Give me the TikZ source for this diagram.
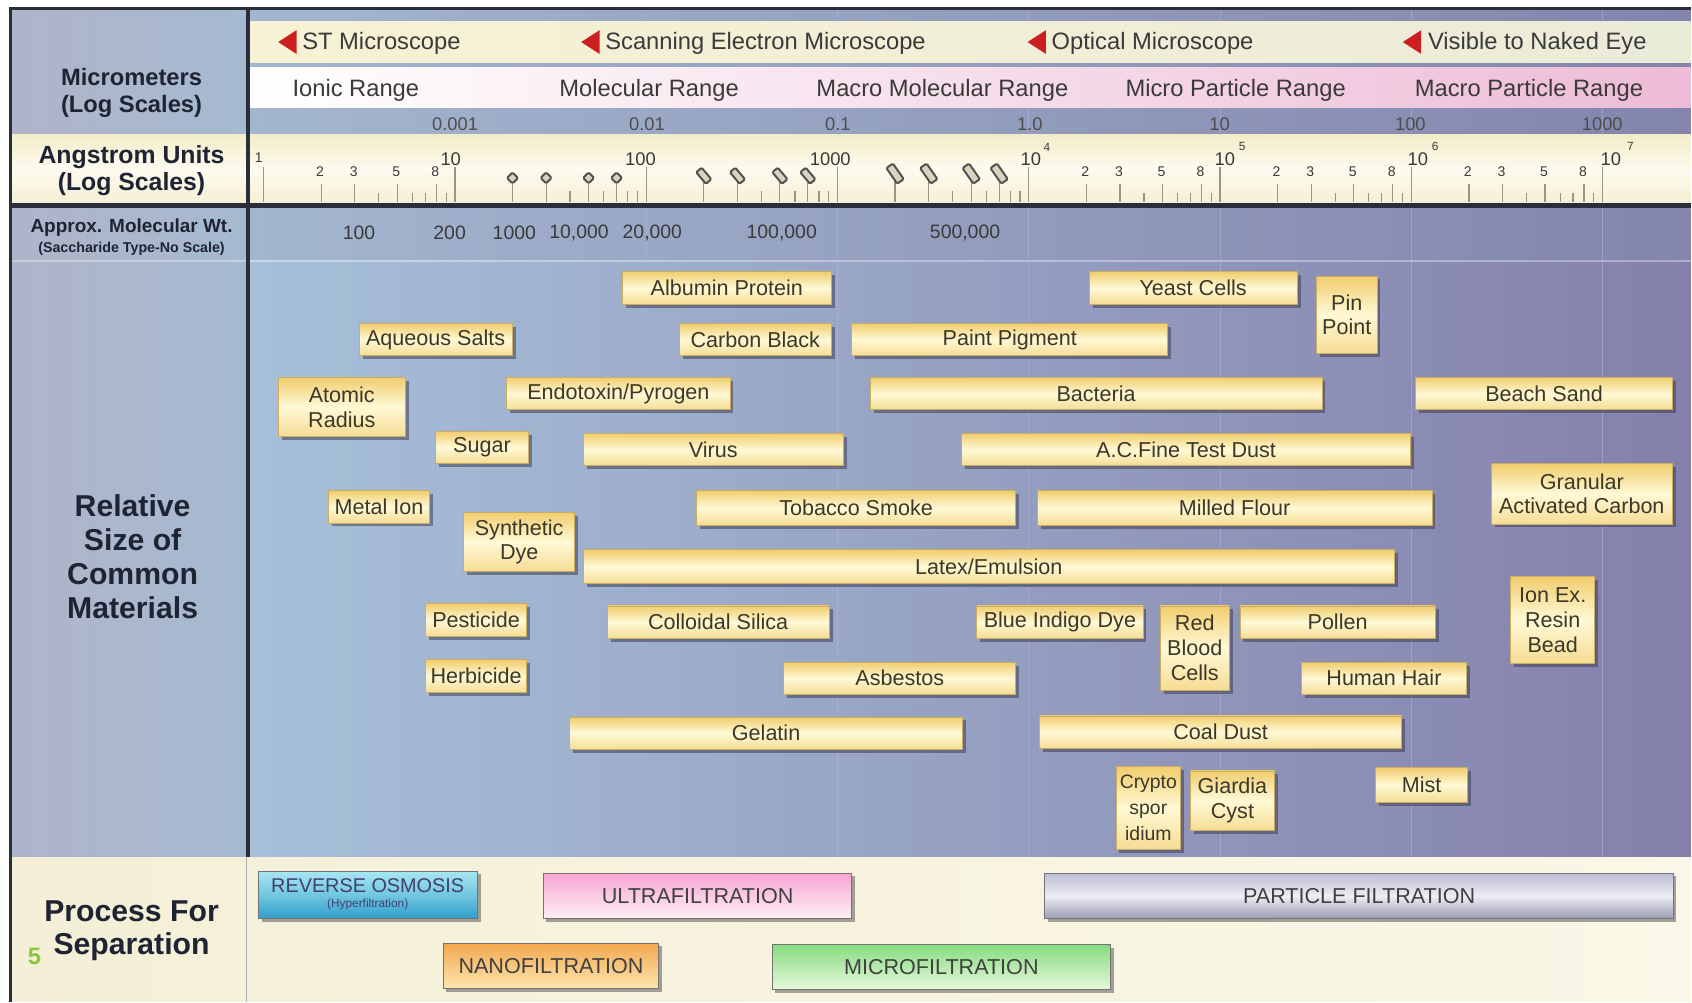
\documentclass[tikz,border=0pt]{standalone}
\usepackage{fontspec}
\setmainfont{Liberation Sans}
\usetikzlibrary{shadows}
\definecolor{frame}{HTML}{2A2E3A}
\definecolor{hdr}{HTML}{1E2433}
\definecolor{txt}{HTML}{3A3A3A}
\definecolor{boxtxt}{HTML}{3B3828}
\definecolor{leftA}{HTML}{B0B4C9}
\definecolor{leftB}{HTML}{A5BAD0}
\definecolor{mainL}{HTML}{A7C0D8}
\definecolor{mainR}{HTML}{8480AB}
\definecolor{bandL}{HTML}{A3B6CF}
\definecolor{bandR}{HTML}{8385AC}
\definecolor{micL}{HTML}{F7F2D4}
\definecolor{micR}{HTML}{EBEBD9}
\definecolor{pinkR}{HTML}{EDBCD6}
\definecolor{angT}{HTML}{F3ECC8}
\definecolor{angM}{HTML}{FDFBEF}
\definecolor{angB}{HTML}{F5EFD4}
\definecolor{botL}{HTML}{F4EFD6}
\definecolor{botR}{HTML}{FAF7E8}
\definecolor{goldT}{HTML}{F1CD6E}
\definecolor{paleY}{HTML}{FFF9D6}
\definecolor{goldB}{HTML}{F5DC94}
\definecolor{boxedge}{HTML}{C9AE62}
\definecolor{shadowc}{HTML}{3E3E55}
\definecolor{tickc}{HTML}{9A9480}
\definecolor{redtri}{HTML}{CC1F1F}
\definecolor{lime}{HTML}{8CC63F}
\definecolor{roT}{HTML}{A8E6F2}
\definecolor{roB}{HTML}{2F9FCC}
\definecolor{ufT}{HTML}{F7A6D2}
\definecolor{ufB}{HTML}{FDF0F4}
\definecolor{pfT}{HTML}{BDBDD4}
\definecolor{pfM}{HTML}{EDEDF3}
\definecolor{pfB}{HTML}{9C9CB6}
\definecolor{nfT}{HTML}{F2A850}
\definecolor{nfB}{HTML}{FDE6B0}
\definecolor{mfT}{HTML}{86DC80}
\definecolor{mfB}{HTML}{E8F8DC}
\definecolor{markf}{HTML}{D9D4BE}
\definecolor{markd}{HTML}{505050}
\newcommand\placenode[7][matbox]{%
  \pgfmathsetmacro\mcx{(#3+#5)/2}%
  \pgfmathsetmacro\mcy{(#4+#6)/2}%
  \pgfmathsetmacro\mww{(#5-#3)*0.5}%
  \pgfmathsetmacro\mhh{(#6-#4)*0.5}%
  \node[#1, minimum width=\mww pt, minimum height=\mhh pt] (#2) at (\mcx,\mcy) {#7};%
}
\begin{document}
\begin{tikzpicture}[x=0.5pt,y=-0.5pt,
  matbox/.style={draw=boxedge, line width=0.4pt, top color=goldT, bottom color=goldB, middle color=paleY,
    inner sep=0pt, align=center, font=\fontsize{10}{11.5}\selectfont, text=boxtxt,
    drop shadow={shadow xshift=1.6pt, shadow yshift=-1.6pt, opacity=0.55, fill=shadowc}},
  procbox/.style={draw=black!55, line width=0.5pt, inner sep=0pt, align=center,
    font=\fontsize{10}{12}\selectfont, text=black!75,
    drop shadow={shadow xshift=1.4pt, shadow yshift=-1.4pt, opacity=0.5, fill=black!70}},
  hdrtext/.style={font=\bfseries, text=hdr, align=center, inner sep=0pt},
  mictext/.style={font=\fontsize{11}{13}\selectfont, text=txt, anchor=west, inner sep=0pt},
  rangetext/.style={font=\fontsize{11}{13}\selectfont, text=txt, inner sep=0pt},
  axtext/.style={font=\fontsize{8.5}{10}\selectfont, text=txt!90, inner sep=0pt},
  mwtext/.style={font=\fontsize{9}{11}\selectfont, text=txt, inner sep=0pt},
  angtext/.style={font=\fontsize{8.5}{10}\selectfont, text=txt, inner sep=0pt},
  minlab/.style={font=\fontsize{6.5}{8}\selectfont, text=txt, inner sep=0pt},
  suplab/.style={font=\fontsize{5.5}{6}\selectfont, text=txt, inner sep=0pt},
  tick/.style={draw=tickc, line width=0.55pt},
  gridl/.style={draw=black!45!blue!30, line width=0.5pt, opacity=0.55},
  marker/.style={draw=markd, fill=markf, line width=0.9pt, rounded corners=0.6pt, inner sep=0pt}
]
% canvas
\fill[white] (0,0) rectangle (1568,929);
% left column
\shade[left color=leftA, right color=leftB] (10,8) rectangle (230,125);
\shade[left color=leftA, right color=leftB] (10,193) rectangle (230,795);
% right top band
\shade[left color=bandL, right color=bandR] (230,8) rectangle (1568,125);
\shade[left color=micL, right color=micR] (232,20) rectangle (1568,58);
\shade[left color=white, right color=pinkR] (232,63) rectangle (1568,100);
% angstrom row
\shade[top color=angT, bottom color=angB, middle color=angM] (10,125) rectangle (1568,188);
% row 3 and main
\shade[left color=bandL, right color=bandR] (230,193) rectangle (1568,242);
\shade[left color=mainL, right color=mainR] (230,242) rectangle (1568,795);
\draw[white, opacity=0.35, line width=0.6pt] (10,242) -- (1568,242);
% bottom row
\shade[left color=botL, right color=botR] (10,795) rectangle (1568,929);
\draw[black!30, line width=0.5pt] (229,795) -- (229,929);
% decade grid lines
\foreach \k in {1,...,7}{
  \pgfmathsetmacro\xx{244.5+177.4*\k}
  \draw[gridl] (\xx,8) -- (\xx,20);
  \draw[gridl] (\xx,100) -- (\xx,125);
  \draw[gridl] (\xx,193) -- (\xx,795);
}
% frame lines
\fill[frame] (10,188) rectangle (1568,193);
\fill[frame] (228.5,8) rectangle (232,795);
\draw[frame, line width=1.2pt] (1568,8) -- (10,8) -- (10,929);

% left headers
\node[hdrtext, font=\bfseries\fontsize{11}{12.5}\selectfont] (hmicro) at (122,86) {Micrometers\\(Log Scales)};
\node[hdrtext, font=\bfseries\fontsize{11.5}{12.5}\selectfont] (hang) at (122,158) {Angstrom Units\\(Log Scales)};
\node[hdrtext, font=\bfseries\fontsize{8.8}{10}\selectfont] (hmw) at (122,211) {Approx. Molecular Wt.};
\node[hdrtext, font=\bfseries\fontsize{6.6}{8}\selectfont] (hmw2) at (122,231) {(Saccharide Type-No Scale)};
\node[hdrtext, font=\bfseries\fontsize{14}{15.75}\selectfont] (hrel) at (123,516) {Relative\\Size of\\Common\\Materials};
\node[hdrtext, font=\bfseries\fontsize{14}{15.5}\selectfont] (hproc) at (122,863) {Process For\\Separation};
\node[font=\bfseries\fontsize{11}{12}\selectfont, text=lime, inner sep=0pt] (five) at (32,887) {5};

% microscope band
\fill[redtri] (258,39) -- (275,28) -- (275,50) -- cycle;
\fill[redtri] (539,39) -- (556,28) -- (556,50) -- cycle;
\fill[redtri] (953,39) -- (970,28) -- (970,50) -- cycle;
\fill[redtri] (1301,39) -- (1318,28) -- (1318,50) -- cycle;
\node[mictext] (st) at (280,40) {ST Microscope};
\node[mictext] (sem) at (561,40) {Scanning Electron Microscope};
\node[mictext] (opt) at (975,40) {Optical Microscope};
\node[mictext] (eye) at (1324,40) {Visible to Naked Eye};

% range band
\node[rangetext] (r1) at (330,84) {Ionic Range};
\node[rangetext] (r2) at (602,84) {Molecular Range};
\node[rangetext] (r3) at (874,84) {Macro Molecular Range};
\node[rangetext] (r4) at (1146,84) {Micro Particle Range};
\node[rangetext] (r5) at (1418,84) {Macro Particle Range};

% micrometer axis
\node[axtext] (a1) at (422,115) {0.001};
\node[axtext] (a2) at (600,115) {0.01};
\node[axtext] (a3) at (777,115) {0.1};
\node[axtext] (a4) at (955,115) {1.0};
\node[axtext] (a5) at (1131,115) {10};
\node[axtext] (a6) at (1308,115) {100};
\node[axtext] (a7) at (1486,115) {1000};

% angstrom ticks
\foreach \k in {0,...,7}{
  \pgfmathsetmacro\xx{244.5+177.4*\k}
  \draw[tick] (\xx,155) -- (\xx,187);
}
\foreach \k in {0,4,5,6}{
  \foreach \m/\tp in {2/171,3/171,4/179,5/171,6/179,7/179,8/171,9/179}{
    \pgfmathsetmacro\xx{244.5+177.4*(\k+log10(\m))}
    \draw[tick] (\xx,\tp) -- (\xx,187);
  }
  \foreach \m in {2,3,5,8}{
    \pgfmathsetmacro\xx{244.5+177.4*(\k+log10(\m))-1}
    \node[minlab] (ml-\k-\m) at (\xx,159) {\m};
  }
}
\foreach \k/\w/\h/\r/\yy in {1/3.6/3.6/45/165, 2/7/3.3/-50/163, 3/8.8/3.7/-55/161}{
  \foreach \m/\tp in {2/168,3/168,4/177,5/168,6/177,7/168,8/177,9/177}{
    \pgfmathsetmacro\xx{244.5+177.4*(\k+log10(\m))}
    \draw[tick] (\xx,\tp) -- (\xx,187);
  }
  \foreach \m in {2,3,5,7}{
    \pgfmathsetmacro\xx{244.5+177.4*(\k+log10(\m))}
    \node[marker, minimum width=\w pt, minimum height=\h pt, rotate=\r] (mk-\k-\m) at (\xx,\yy) {};
  }
}
\node[minlab] (d0) at (240,146) {1};
\node[angtext] (d1) at (418,148) {10};
\node[angtext] (d2) at (594,148) {100};
\node[angtext] (d3) at (770,148) {1000};
\node[angtext] (d4) at (956,148) {10};
\node[suplab] (s4) at (971,137) {4};
\node[angtext] (d5) at (1136,148) {10};
\node[suplab] (s5) at (1152,136) {5};
\node[angtext] (d6) at (1315,148) {10};
\node[suplab] (s6) at (1331,136) {6};
\node[angtext] (d7) at (1494,148) {10};
\node[suplab] (s7) at (1512,136) {7};

% molecular weight
\node[mwtext] (w1) at (333,216) {100};
\node[mwtext] (w2) at (417,216) {200};
\node[mwtext] (w3) at (477,216) {1000};
\node[mwtext] (w4) at (537,216) {10,000};
\node[mwtext] (w5) at (605,216) {20,000};
\node[mwtext] (w6) at (725,216) {100,000};
\node[mwtext] (w7) at (895,216) {500,000};

% material boxes
\placenode{albumin}{577}{252}{771}{282}{Albumin Protein}
\placenode{yeast}{1010}{252}{1203}{282}{Yeast Cells}
\placenode{pin}{1221}{256}{1277}{328}{Pin\\Point}
\placenode{salts}{333}{300}{475}{330}{Aqueous Salts}
\placenode{carbon}{630}{300}{771}{330}{Carbon Black}
\placenode{paint}{790}{300}{1083}{330}{Paint Pigment}
\placenode{atomic}{258}{350}{376}{405}{Atomic\\Radius}
\placenode{endo}{470}{350}{677}{380}{Endotoxin/Pyrogen}
\placenode{bact}{807}{350}{1226}{380}{Bacteria}
\placenode{beach}{1313}{350}{1551}{380}{Beach Sand}
\placenode{sugar}{404}{400}{490}{430}{Sugar}
\placenode{virus}{541}{402}{782}{432}{Virus}
\placenode{acdust}{892}{402}{1308}{432}{A.C.Fine Test Dust}
\placenode{gac}{1383}{430}{1551}{486}{Granular\\Activated Carbon}
\placenode{metal}{305}{455}{398}{485}{Metal Ion}
\placenode{syndye}{430}{475}{533}{530}{Synthetic\\Dye}
\placenode{tobacco}{646}{455}{942}{487}{Tobacco Smoke}
\placenode{flour}{962}{455}{1328}{487}{Milled Flour}
\placenode{latex}{541}{510}{1293}{541}{Latex/Emulsion}
\placenode{ionex}{1401}{535}{1479}{615}{Ion Ex.\\Resin\\Bead}
\placenode{pest}{395}{560}{488}{590}{Pesticide}
\placenode{silica}{563}{562}{769}{592}{Colloidal Silica}
\placenode{indigo}{906}{562}{1060}{592}{Blue Indigo Dye}
\placenode{rbc}{1076}{562}{1140}{640}{Red\\Blood\\Cells}
\placenode{pollen}{1150}{562}{1331}{592}{Pollen}
\placenode{herb}{395}{612}{488}{642}{Herbicide}
\placenode{asb}{727}{614}{942}{644}{Asbestos}
\placenode{hair}{1207}{614}{1360}{644}{Human Hair}
\placenode{gelatin}{528}{665}{893}{695}{Gelatin}
\placenode{coal}{964}{664}{1300}{694}{Coal Dust}
\placenode[matbox, font=\fontsize{9}{12}\selectfont]{crypto}{1035}{711}{1095}{788}{Crypto\\spor\\idium}
\placenode{giardia}{1104}{715}{1182}{770}{Giardia\\Cyst}
\placenode{mist}{1276}{712}{1361}{744}{Mist}

% process boxes
\placenode[procbox, top color=roT, bottom color=roB, middle color=roT!55!roB]{ro}{240}{808}{443}{852}{}
\node[font=\fontsize{9.2}{10}\selectfont, text=black!65!blue!50!gray, inner sep=0pt] (rot) at (341,821) {REVERSE OSMOSIS};
\node[font=\fontsize{5.5}{6}\selectfont, text=black!65!blue!50!gray, inner sep=0pt] (rot2) at (341,839) {(Hyperfiltration)};
\placenode[procbox, top color=ufT, bottom color=ufB]{uf}{504}{810}{790}{852}{ULTRAFILTRATION}
\placenode[procbox, top color=pfT, bottom color=pfB, middle color=pfM]{pf}{969}{810}{1552}{852}{PARTICLE FILTRATION}
\placenode[procbox, top color=nfT, bottom color=nfB]{nf}{411}{875}{611}{917}{NANOFILTRATION}
\placenode[procbox, top color=mfT, bottom color=mfB]{mf}{716}{876}{1030}{918}{MICROFILTRATION}
\end{tikzpicture}
\end{document}
